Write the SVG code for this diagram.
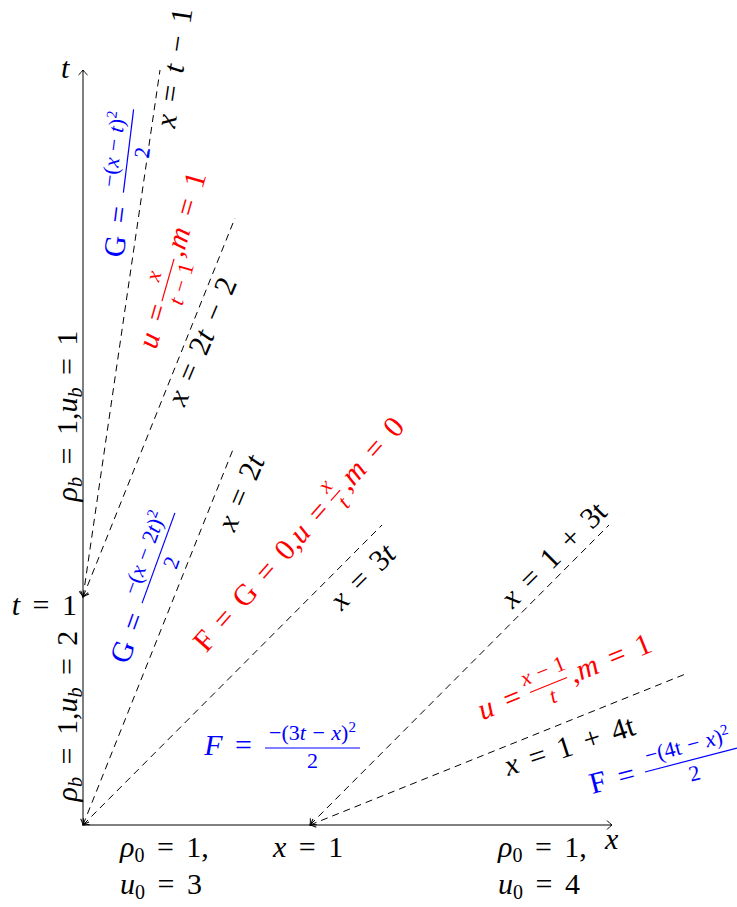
<svg xmlns="http://www.w3.org/2000/svg" width="737" height="907" viewBox="0 0 737 907">
<defs>
<style>
text{font-family:Liberation Serif, Times New Roman, Times, DejaVu Serif, Noto Serif, serif;font-size:30px;word-spacing:5px;fill:#000}
.it{font-style:italic}
.fr{font-size:22px;word-spacing:1px}
.sup{font-size:15px}
.sub{font-size:20px}
.b{fill:#0000ff}
.r{fill:#ff0000}
.bb{stroke:#0000ff;stroke-width:1.2}
.rb{stroke:#ff0000;stroke-width:1.2}
.axis{stroke:#000;stroke-width:1;fill:none}
.dash{stroke:#000;stroke-width:1;fill:none;stroke-dasharray:7 5}
</style>
<marker id="tip" markerUnits="userSpaceOnUse" markerWidth="12" markerHeight="12" viewBox="-7 -6 8 12" refX="0" refY="0" orient="auto-start-reverse" overflow="visible">
<path d="M-5,-4.5 Q-2,-1.2 0,0 Q-2,1.2 -5,4.5" fill="none" stroke="#000" stroke-width="1"/>
</marker>
</defs>
<rect width="737" height="907" fill="#fff"/>

<g id="axes">
<line x1="83" y1="825" x2="83" y2="70" class="axis" marker-end="url(#tip)"/>
<line x1="83" y1="825" x2="612" y2="825" class="axis" marker-end="url(#tip)"/>
<text x="61" y="78" class="it">t</text>
<text x="605" y="849" class="it">x</text>
</g>

<g id="connectors">
<line x1="83" y1="597" x2="160" y2="70" class="dash" marker-start="url(#tip)"/>
<line x1="83" y1="597" x2="235" y2="218" class="dash" marker-start="url(#tip)"/>
<line x1="83" y1="825" x2="234" y2="447" class="dash" marker-start="url(#tip)"/>
<line x1="83" y1="825" x2="382" y2="525" class="dash" marker-start="url(#tip)"/>
<line x1="310" y1="825" x2="609" y2="525" class="dash" marker-start="url(#tip)"/>
<line x1="310" y1="825" x2="688" y2="673" class="dash" marker-start="url(#tip)"/>
</g>

<g id="t1-label"><text x="77" y="615" text-anchor="end"><tspan class="it">t</tspan> = 1</text></g>

<g id="bc-upper" transform="translate(77,416) rotate(-90)">
<text text-anchor="middle"><tspan class="it">ρ</tspan><tspan class="it sub" dy="5">b</tspan><tspan dy="-5"> = 1,</tspan><tspan class="it">u</tspan><tspan class="it sub" dy="5">b</tspan><tspan dy="-5"> = 1</tspan></text>
</g>
<g id="bc-lower" transform="translate(77,716) rotate(-90)">
<text text-anchor="middle"><tspan class="it">ρ</tspan><tspan class="it sub" dy="5">b</tspan><tspan dy="-5"> = 1,</tspan><tspan class="it">u</tspan><tspan class="it sub" dy="5">b</tspan><tspan dy="-5"> = 2</tspan></text>
</g>

<g id="ic-left">
<text x="120" y="857"><tspan class="it">ρ</tspan><tspan class="sub" dy="5">0</tspan><tspan dy="-5"> = 1,</tspan></text>
<text x="120" y="894"><tspan class="it">u</tspan><tspan class="sub" dy="5">0</tspan><tspan dy="-5"> = 3</tspan></text>
</g>
<g id="x1-label"><text x="273" y="857"><tspan class="it">x</tspan> = 1</text></g>
<g id="ic-right">
<text x="498" y="857"><tspan class="it">ρ</tspan><tspan class="sub" dy="5">0</tspan><tspan dy="-5"> = 1,</tspan></text>
<text x="498" y="894"><tspan class="it">u</tspan><tspan class="sub" dy="5">0</tspan><tspan dy="-5"> = 4</tspan></text>
</g>

<g id="lbl-x-t-1" transform="translate(175.7,68) rotate(-81.7)">
<text y="8" text-anchor="middle"><tspan class="it">x</tspan> = <tspan class="it">t</tspan> − 1</text>
</g>

<g id="lbl-G-upper" transform="translate(128.5,151) rotate(-83)">
<text class="b" x="-56" y="8" text-anchor="end">G =</text>
<line x1="-42" y1="0" x2="42" y2="0" class="bb"/>
<text class="b fr" y="-8" text-anchor="middle">−(<tspan class="it">x</tspan> − <tspan class="it">t</tspan>)<tspan class="sup" dy="-8">2</tspan></text>
<text class="b fr" y="21" text-anchor="middle">2</text>
</g>

<g id="lbl-u-upper" transform="translate(168,280) rotate(-74)">
<text class="r" x="-26" y="8" text-anchor="end"><tspan class="it">u</tspan> =</text>
<line x1="-22" y1="0" x2="22" y2="0" class="rb"/>
<text class="r fr it" y="-8" text-anchor="middle">x</text>
<text class="r fr" y="21" text-anchor="middle"><tspan class="it">t</tspan> − 1</text>
<text class="r" x="25" y="8">,<tspan class="it">m</tspan> = 1</text>
</g>

<g id="lbl-x-2t-2" transform="translate(203.5,342) rotate(-67)">
<text y="8" text-anchor="middle"><tspan class="it">x</tspan> = 2<tspan class="it">t</tspan> − 2</text>
</g>

<g id="lbl-x-2t" transform="translate(242.5,493.5) rotate(-67)">
<text y="8" text-anchor="middle"><tspan class="it">x</tspan> = 2<tspan class="it">t</tspan></text>
</g>

<g id="lbl-G-lower" transform="translate(158.5,558) rotate(-70)">
<text class="b" x="-60" y="8" text-anchor="end">G =</text>
<line x1="-48" y1="0" x2="48" y2="0" class="bb"/>
<text class="b fr" y="-8" text-anchor="middle">−(<tspan class="it">x</tspan> − 2<tspan class="it">t</tspan>)<tspan class="sup" dy="-8">2</tspan></text>
<text class="b fr" y="21" text-anchor="middle">2</text>
</g>

<g id="lbl-FG0" transform="translate(335.5,495.3) rotate(-48.5)">
<text class="r" x="-15" y="8" text-anchor="end">F = G = 0,<tspan class="it">u</tspan> =</text>
<line x1="-7" y1="0" x2="7" y2="0" class="rb"/>
<text class="r fr it" y="-7" text-anchor="middle">x</text>
<text class="r fr it" y="18" text-anchor="middle">t</text>
<text class="r" x="11" y="8">,<tspan class="it">m</tspan> = 0</text>
</g>

<g id="lbl-x-3t" transform="translate(364,578) rotate(-45)">
<text y="8" text-anchor="middle"><tspan class="it">x</tspan> = 3<tspan class="it">t</tspan></text>
</g>

<g id="lbl-F-mid">
<text class="b" x="252" y="755" text-anchor="end"><tspan class="it">F</tspan> =</text>
<line x1="265" y1="748" x2="360" y2="748" class="bb"/>
<text class="b fr" x="312.5" y="740" text-anchor="middle">−(3<tspan class="it">t</tspan> − <tspan class="it">x</tspan>)<tspan class="sup" dy="-8">2</tspan></text>
<text class="b fr" x="312.5" y="768" text-anchor="middle">2</text>
</g>

<g id="lbl-x-1-3t" transform="translate(555,556) rotate(-45)">
<text y="8" text-anchor="middle"><tspan class="it">x</tspan> = 1 + 3t</text>
</g>

<g id="lbl-u-lower" transform="translate(548.5,685) rotate(-22)">
<text class="r" x="-30" y="8" text-anchor="end"><tspan class="it">u</tspan> =</text>
<line x1="-20" y1="0" x2="20" y2="0" class="rb"/>
<text class="r fr" y="-8" text-anchor="middle"><tspan class="it">x</tspan> − 1</text>
<text class="r fr it" y="19" text-anchor="middle">t</text>
<text class="r" x="24" y="8">,<tspan class="it">m</tspan> = 1</text>
</g>

<g id="lbl-x-1-4t" transform="translate(570,747.5) rotate(-18)">
<text y="8" text-anchor="middle"><tspan class="it">x</tspan> = 1 + 4t</text>
</g>

<g id="lbl-F-right" transform="translate(691,760) rotate(-14.6)">
<text class="b" x="-58" y="8" text-anchor="end">F =</text>
<line x1="-47.5" y1="0" x2="47.5" y2="0" class="bb"/>
<text class="b fr" y="-8" text-anchor="middle">−(4t − <tspan class="it">x</tspan>)<tspan class="sup" dy="-8">2</tspan></text>
<text class="b fr" y="21" text-anchor="middle">2</text>
</g>
</svg>
